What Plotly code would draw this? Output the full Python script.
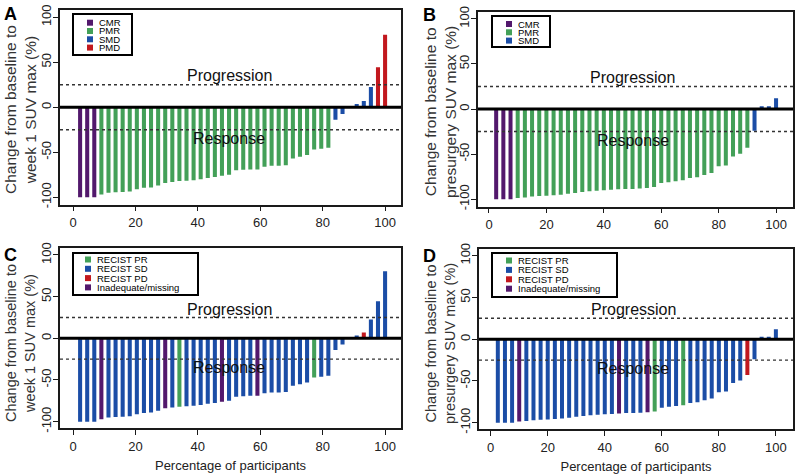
import plotly.graph_objects as go

# ---------------- data ----------------
# Week-1 change in SUVmax (panels A and C), sorted waterfall order
week1_change = [-100, -100, -100, -97, -95, -94.5, -94, -93.5, -91, -89.5, -89, -87,
                -84, -83, -82, -81.5, -81, -80, -78.5, -77.5, -76, -75, -70, -69.5,
                -69, -69, -66, -65, -65, -64.5, -57, -55, -53, -47, -46, -45,
                -14, -7.5, 0, 3.5, 7, 22.5, 44.5, 80.5]
week1_pet = ["CMR", "CMR", "CMR",
             "PMR", "PMR", "PMR", "PMR", "PMR", "PMR", "PMR", "PMR", "PMR", "PMR", "PMR",
             "PMR", "PMR", "PMR", "PMR", "PMR", "PMR", "PMR", "PMR", "PMR", "PMR", "PMR",
             "PMR", "PMR", "PMR", "PMR", "PMR", "PMR", "PMR", "PMR", "PMR", "PMR", "PMR",
             "SMD", "SMD", "SMD", "SMD", "SMD", "SMD", "PMD", "PMD"]
week1_recist = ["RECIST SD", "RECIST SD", "RECIST SD", "Inadequate/missing", "RECIST SD",
                "RECIST SD", "RECIST SD", "RECIST SD", "RECIST SD", "RECIST SD", "RECIST SD",
                "RECIST SD", "Inadequate/missing", "RECIST SD", "RECIST PR", "RECIST SD",
                "RECIST SD", "RECIST SD", "RECIST SD", "RECIST SD", "Inadequate/missing",
                "RECIST SD", "RECIST SD", "RECIST SD", "RECIST SD", "Inadequate/missing",
                "RECIST SD", "RECIST SD", "RECIST SD", "RECIST SD", "RECIST SD", "RECIST SD",
                "RECIST SD", "RECIST PR", "RECIST SD", "RECIST SD", "RECIST SD", "RECIST SD",
                "RECIST SD", "RECIST SD", "RECIST PD", "RECIST SD", "RECIST SD", "RECIST SD"]

# Presurgery change in SUVmax (panels B and D)
presurgery_change = [-100, -100, -100, -98.5, -98, -97, -96.5, -96, -95.5, -95, -94, -93,
                     -92, -91, -90.5, -90, -89.5, -89, -88.5, -88.5, -88, -87.5, -86.5,
                     -82, -81, -80, -79, -76.5, -75.5, -73, -71, -63.5, -62.5, -52.5,
                     -49.5, -43, -24, 3, 3, 12]
presurgery_pet = ["CMR", "CMR", "CMR",
                  "PMR", "PMR", "PMR", "PMR", "PMR", "PMR", "PMR", "PMR", "PMR", "PMR", "PMR",
                  "PMR", "PMR", "PMR", "PMR", "PMR", "PMR", "PMR", "PMR", "PMR", "PMR", "PMR",
                  "PMR", "PMR", "PMR", "PMR", "PMR", "PMR", "PMR", "PMR", "PMR", "PMR", "PMR",
                  "SMD", "SMD", "SMD", "SMD"]
presurgery_recist = ["RECIST SD", "RECIST SD", "RECIST SD", "Inadequate/missing", "RECIST SD",
                     "RECIST SD", "RECIST SD", "RECIST SD", "RECIST SD", "RECIST SD",
                     "RECIST SD", "RECIST SD", "RECIST SD", "RECIST SD", "RECIST SD",
                     "RECIST SD", "RECIST SD", "Inadequate/missing", "RECIST SD", "RECIST SD",
                     "RECIST SD", "Inadequate/missing", "RECIST PR", "RECIST SD", "RECIST SD",
                     "RECIST SD", "RECIST PR", "RECIST SD", "RECIST SD", "RECIST SD",
                     "RECIST SD", "RECIST SD", "RECIST SD", "RECIST SD", "RECIST SD",
                     "RECIST PD", "RECIST SD", "RECIST SD", "RECIST SD", "RECIST SD"]

pet_legend_A = ["CMR", "PMR", "SMD", "PMD"]
pet_legend_B = ["CMR", "PMR", "SMD"]
recist_legend = ["RECIST PR", "RECIST SD", "RECIST PD", "Inadequate/missing"]

x_ticks = [0, 20, 40, 60, 80, 100]
y_ticks = [-100, -50, 0, 50, 100]
y_tick_labels = ["-100", "-50", "0", "50", "100"]
thresholds = [25, -25]

# ---------------- styling ----------------
COLORS = {"CMR": "#52186C", "PMR": "#43A058", "SMD": "#1B4DA6", "PMD": "#C2181E",
          "RECIST PR": "#43A058", "RECIST SD": "#1B4DA6", "RECIST PD": "#C2181E",
          "Inadequate/missing": "#52186C"}
FONT = "Liberation Sans, Arial, sans-serif"
W, H = 800, 476


def px(xp):
    return xp / W


def py(yp):
    return 1 - yp / H


panels = [
    dict(letter="A", values=week1_change, cats=week1_pet, legend=pet_legend_A,
         ytitle="Change from baseline to<br>week 1 SUV max (%)",
         ytitle_pos=(20, 110), ytitle_size=15.5,
         xdom=(60, 401), ydom=(10, 204.5), xr=(-4.17, 105.1), bw=1.3,
         letter_pos=(10, 14), leg_box=(73, 14, 132, 55), leg_y0=22.7, leg_dy=8.3,
         leg_sq=87, xtitle=False),
    dict(letter="B", values=presurgery_change, cats=presurgery_pet, legend=pet_legend_B,
         ytitle="Change from baseline to<br>presurgery SUV max (%)",
         ytitle_pos=(440, 112), ytitle_size=15.5,
         xdom=(478, 793), ydom=(11.5, 206.5), xr=(-3.83, 105.9), bw=1.4,
         letter_pos=(429, 15), leg_box=(492, 16, 550, 47), leg_y0=24, leg_dy=8.3,
         leg_sq=506, xtitle=False),
    dict(letter="C", values=week1_change, cats=week1_recist, legend=recist_legend,
         ytitle="Change from baseline to<br>week 1 SUV max (%)",
         ytitle_pos=(20, 343), ytitle_size=14.5,
         xdom=(60, 401), ydom=(248.3, 428.3), xr=(-4.17, 105.1), bw=1.3,
         letter_pos=(10, 255), leg_box=(73, 253, 198, 295), leg_y0=259.5, leg_dy=9.3,
         leg_sq=85, xtitle=True),
    dict(letter="D", values=presurgery_change, cats=presurgery_recist, legend=recist_legend,
         ytitle="Change from baseline to<br>presurgery SUV max (%)",
         ytitle_pos=(440, 344), ytitle_size=14.5,
         xdom=(479, 793), ydom=(249, 429.4), xr=(-4.1, 106), bw=1.4,
         letter_pos=(429, 256), leg_box=(492, 253, 617, 297), leg_y0=260.5, leg_dy=9.4,
         leg_sq=506, xtitle=True),
]

fig = go.Figure()
shapes = []
annotations = []
layout_axes = {}

for k, p in enumerate(panels, start=1):
    xa = "x" if k == 1 else f"x{k}"
    ya = "y" if k == 1 else f"y{k}"
    n = len(p["values"])
    pct = [100.0 * (i + 1) / n for i in range(n)]

    for cat in p["legend"]:
        xs = [pct[i] for i in range(n) if p["cats"][i] == cat]
        ys = [p["values"][i] for i in range(n) if p["cats"][i] == cat]
        fig.add_trace(go.Bar(x=xs, y=ys, name=cat, width=p["bw"],
                             marker=dict(color=COLORS[cat], line=dict(width=0)),
                             xaxis=xa, yaxis=ya, showlegend=False))

    axis_common = dict(showline=True, mirror=True, linecolor="#1a1a1a", linewidth=1.5,
                       ticks="outside", ticklen=5, tickwidth=1, tickcolor="#1a1a1a",
                       showgrid=False, zeroline=False, automargin=False,
                       tickfont=dict(family=FONT, size=13, color="#222"))
    xkey = "xaxis" if k == 1 else f"xaxis{k}"
    ykey = "yaxis" if k == 1 else f"yaxis{k}"
    layout_axes[xkey] = dict(axis_common, domain=[px(p["xdom"][0]), px(p["xdom"][1])],
                             range=list(p["xr"]), tickvals=x_ticks, anchor=ya,
                             title=dict(text="Percentage of participants" if p["xtitle"] else "",
                                        font=dict(family=FONT, size=13, color="#222"),
                                        standoff=8))
    layout_axes[ykey] = dict(axis_common, domain=[py(p["ydom"][1]), py(p["ydom"][0])],
                             range=[-108, 108], tickvals=y_ticks, ticktext=y_tick_labels,
                             tickangle=-90, anchor=xa, ticklabelstandoff=-3)

    # y-axis title (rotated), placed precisely
    annotations.append(dict(text=p["ytitle"], x=px(p["ytitle_pos"][0]),
                            y=py(p["ytitle_pos"][1]), xref="paper", yref="paper",
                            xanchor="center", yanchor="middle", textangle=-90,
                            showarrow=False,
                            font=dict(family=FONT, size=p["ytitle_size"], color="#333")))

    # zero line and thresholds
    shapes.append(dict(type="line", xref=f"{xa} domain", yref=ya, x0=0, x1=1, y0=0, y1=0,
                       line=dict(color="black", width=3), layer="above"))
    for t in thresholds:
        shapes.append(dict(type="line", xref=f"{xa} domain", yref=ya, x0=0, x1=1, y0=t, y1=t,
                           line=dict(color="#333", width=1.4, dash="dot"), layer="above"))
    annotations.append(dict(text="Progression", x=50, y=35, xref=xa, yref=ya, showarrow=False,
                            font=dict(family=FONT, size=16, color="#111")))
    annotations.append(dict(text="Response", x=50, y=-35, xref=xa, yref=ya, showarrow=False,
                            font=dict(family=FONT, size=16, color="#111")))

    # panel letter
    annotations.append(dict(text=f"<b>{p['letter']}</b>", x=px(p["letter_pos"][0]),
                            y=py(p["letter_pos"][1]), xref="paper", yref="paper",
                            xanchor="center", yanchor="middle",
                            showarrow=False, font=dict(family=FONT, size=18, color="black")))

    # legend box
    bx0, by0, bx1, by1 = p["leg_box"]
    shapes.append(dict(type="rect", xref="paper", yref="paper", x0=px(bx0), x1=px(bx1),
                       y0=py(by1), y1=py(by0), line=dict(color="black", width=2),
                       fillcolor="white", layer="above"))
    for j, cat in enumerate(p["legend"]):
        cy = p["leg_y0"] + j * p["leg_dy"]
        sx = p["leg_sq"]
        shapes.append(dict(type="rect", xref="paper", yref="paper", x0=px(sx), x1=px(sx + 6),
                           y0=py(cy + 3), y1=py(cy - 3), line=dict(width=0),
                           fillcolor=COLORS[cat], layer="above"))
        annotations.append(dict(text=cat, x=px(sx + 9.5), y=py(cy), xref="paper", yref="paper",
                                xanchor="left", yanchor="middle", showarrow=False,
                                font=dict(family=FONT, size=9.5, color="black")))

fig.update_layout(
    width=W, height=H,
    margin=dict(l=0, r=0, t=0, b=0, autoexpand=False),
    paper_bgcolor="white", plot_bgcolor="white",
    barmode="overlay", showlegend=False,
    font=dict(family=FONT, color="#222"),
    shapes=shapes, annotations=annotations,
    **layout_axes,
)

fig.write_html("out.html", config={"displayModeBar": False},
               post_script="document.body.style.margin='0px';document.body.style.overflow='hidden';")
